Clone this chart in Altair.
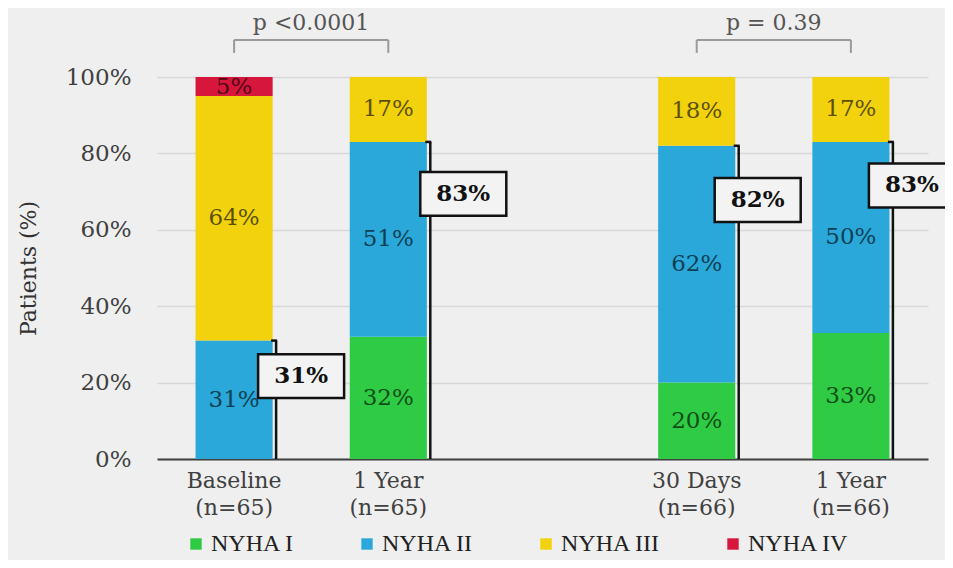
import altair as alt
import pandas as pd

# ---- data ----
categories = ["Baseline|(n=65)", "1 Year|(n=65)", "30 Days|(n=66)", "1 Year|(n=66)"]
spacer = " "
x_domain = [categories[0], categories[1], spacer, categories[2], categories[3]]
classes = ["NYHA I", "NYHA II", "NYHA III", "NYHA IV"]
nyha_1 = [0, 32, 20, 33]
nyha_2 = [31, 51, 62, 50]
nyha_3 = [64, 17, 18, 17]
nyha_4 = [5, 0, 0, 0]
colors = ["#2fcb45", "#2aa8da", "#f1d20c", "#d7163c"]
box_y = [21.7, 69.4, 67.8, 71.6]          # vertical centre of the "I+II" boxes (%)
box_dx = [67, 75, 61, 61]                  # horizontal shift of each box from bar centre (px)
p_left = [categories[0], categories[2]]
p_right = [categories[1], categories[3]]
p_text = ["p <0.0001", "p = 0.39"]

SERIF = "DejaVu Serif"

# ---- tables ----
rows = []
series = [nyha_1, nyha_2, nyha_3, nyha_4]
for i, cat in enumerate(categories):
    base = 0
    for k, cls in enumerate(classes):
        v = series[k][i]
        if v > 0:
            rows.append(dict(cat=cat, cls=cls, ord=k, v=v, y0=base, y1=base + v,
                             mid=base + v / 2, lab=f"{v}%"))
        base += v
df = pd.DataFrame(rows)

cum = [nyha_1[i] + nyha_2[i] for i in range(len(categories))]
bdf = pd.DataFrame(dict(cat=categories, cum=cum, lab=[f"{c}%" for c in cum],
                        by=box_y, zero=[0] * len(categories)))
pdf = pd.DataFrame(dict(a=p_left, b=p_right, t=p_text))

xscale = alt.Scale(domain=x_domain, paddingInner=0.5, paddingOuter=0.25)
xaxis = alt.Axis(title=None, labelExpr="split(datum.value, '|')", labelFont=SERIF,
                 labelFontSize=22, labelColor="#404040", labelLineHeight=27,
                 labelPadding=11, ticks=False, domain=True, domainColor="#404040",
                 domainWidth=2, grid=False, labelAngle=0)
yscale = alt.Scale(domain=[0, 100], nice=False)
yaxis = alt.Axis(title="Patients (%)", values=[0, 20, 40, 60, 80, 100],
                 labelExpr="datum.value + '%'", labelFont=SERIF, labelFontSize=23,
                 labelColor="#404040", labelPadding=26, ticks=False, domain=False,
                 grid=True, gridColor="#d8d8d8", gridWidth=1.5,
                 titleFont=SERIF, titleFontSize=22, titleFontWeight="normal",
                 titleColor="#333333", titlePadding=25)


def X(field):
    return alt.X(field, type="nominal", scale=xscale, axis=xaxis)


def Y(field):
    return alt.Y(field, type="quantitative", scale=yscale, axis=yaxis)


bars = alt.Chart(df).mark_bar().encode(
    x=X("cat"),
    y=Y("y0"),
    y2="y1",
    color=alt.Color("cls:N", scale=alt.Scale(domain=classes, range=colors),
                    legend=alt.Legend(title=None, orient="none", legendX=27, legendY=455,
                                      direction="horizontal", symbolType="square",
                                      symbolSize=130, symbolStrokeWidth=0,
                                      labelFont="Liberation Serif", labelFontSize=24,
                                      labelColor="#222222", labelOffset=3,
                                      columnPadding=60)),
)

bar_labels = alt.Chart(df).mark_text(font=SERIF, fontSize=23, color="#000000",
                                     opacity=0.62).encode(
    x=X("cat"), y=Y("mid"), text="lab:N")

bracket_v = alt.Chart(bdf).mark_rule(color="#111111", strokeWidth=2.5, xOffset=42).encode(
    x=X("cat"), y=Y("zero"), y2="cum")
bracket_h = alt.Chart(bdf).mark_rule(color="#111111", strokeWidth=2.5,
                                     xOffset=37, x2Offset=43).encode(
    x=X("cat"), x2="cat", y=Y("cum"))

BOX = "M-1,-0.51L1,-0.51L1,0.51L-1,0.51Z"
boxes = []
for i, cat in enumerate(categories):
    sub = alt.Chart(bdf).transform_filter(alt.datum.cat == cat)
    boxes.append(sub.mark_point(shape=BOX, size=7396, filled=True, fill="#f3f3f3",
                                stroke="#111111", strokeWidth=2.5, opacity=1,
                                xOffset=box_dx[i]).encode(x=X("cat"), y=Y("by")))
    boxes.append(sub.mark_text(font=SERIF, fontSize=23, fontWeight="bold", color="#111111",
                               xOffset=box_dx[i]).encode(x=X("cat"), y=Y("by"), text="lab:N"))

P_TOP, P_BOT, P_TXT = 109.7, 106.3, 114.2
p_h = alt.Chart(pdf).transform_calculate(y=str(P_TOP)).mark_rule(
    color="#9a9a9a", strokeWidth=2).encode(x=X("a"), x2="b", y=Y("y:Q"))
p_l = alt.Chart(pdf).transform_calculate(y=str(P_TOP), y2=str(P_BOT)).mark_rule(
    color="#9a9a9a", strokeWidth=2).encode(x=X("a"), y=Y("y:Q"), y2="y2:Q")
p_r = alt.Chart(pdf).transform_calculate(y=str(P_TOP), y2=str(P_BOT)).mark_rule(
    color="#9a9a9a", strokeWidth=2).encode(x=X("b"), y=Y("y:Q"), y2="y2:Q")
p_t = alt.Chart(pdf).transform_calculate(y=str(P_TXT)).mark_text(
    font=SERIF, fontSize=22, color="#555555", xOffset=77).encode(
    x=X("a"), y=Y("y:Q"), text="t:N")

chart = alt.layer(bars, bar_labels, bracket_v, bracket_h, *boxes, p_h, p_l, p_r, p_t).properties(
    width=771, height=382,
    autosize=alt.AutoSizeParams(type="none"),
    padding={"left": 149, "top": 69, "right": 17, "bottom": 101},
    background="#efefef",
).configure_view(stroke=None)

chart.save("out.html", embed_options={"renderer": "svg", "actions": False})
